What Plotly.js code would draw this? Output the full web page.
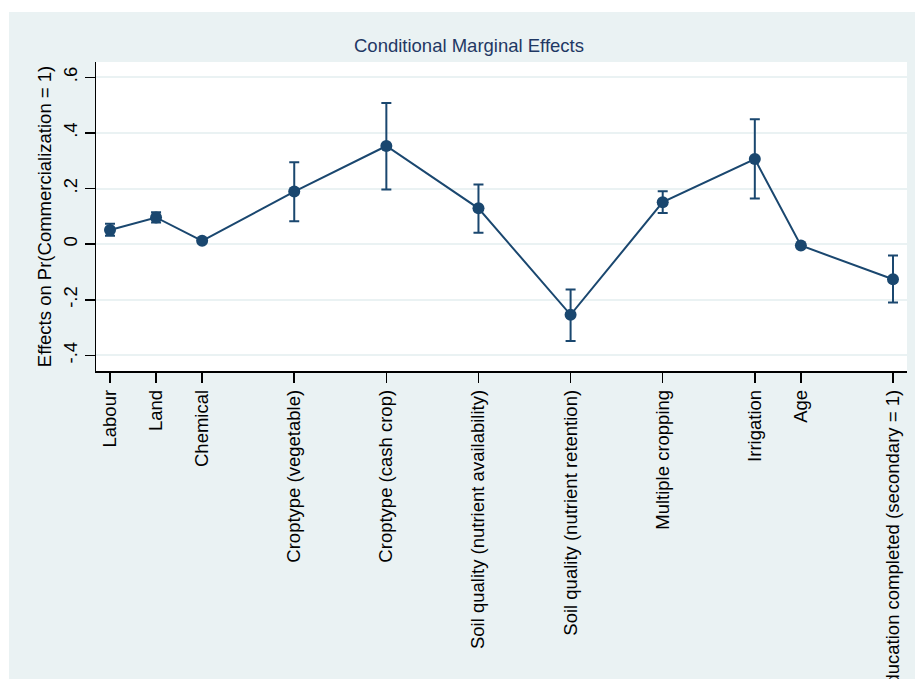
<!DOCTYPE html>
<html>
<head>
<meta charset="utf-8">
<script src="https://cdn.plot.ly/plotly-3.0.1.min.js"></script>
<style>
  html, body { margin: 0; padding: 0; background: #ffffff; }
  #chart { width: 915px; height: 679px; }
</style>
</head>
<body>
<div id="chart"></div>
<script>
// Marginal effects with 95% confidence intervals
const labels = [
  "Labour", "Land", "Chemical", "Croptype (vegetable)", "Croptype (cash crop)",
  "Soil quality (nutrient availability)", "Soil quality (nutrient retention)",
  "Multiple cropping", "Irrigation", "Age", "Education completed (secondary = 1)"
];
const positions = [1, 2, 3, 5, 7, 9, 11, 13, 15, 16, 18];
const effects = [0.051, 0.096, 0.012, 0.189, 0.353, 0.129, -0.254, 0.151, 0.306, -0.005, -0.126];
const ciLow   = [0.030, 0.078, 0.005, 0.082, 0.197, 0.041, -0.348, 0.112, 0.164, -0.009, -0.210];
const ciHigh  = [0.073, 0.115, 0.019, 0.295, 0.508, 0.215, -0.163, 0.190, 0.449, -0.001, -0.041];

const yTickVals = [-0.4, -0.2, 0, 0.2, 0.4, 0.6];
const yTickText = ["-.4", "-.2", "0", ".2", ".4", ".6"];

const navy = "#1a476f";
const font = "Liberation Sans, Arial, Helvetica, sans-serif";
const fs = 18.5;

const trace = {
  type: "scatter",
  mode: "lines+markers",
  x: positions,
  y: effects,
  line: { color: navy, width: 2 },
  marker: { color: navy, size: 12 },
  error_y: {
    type: "data",
    symmetric: false,
    array: effects.map((v, i) => ciHigh[i] - v),
    arrayminus: effects.map((v, i) => v - ciLow[i]),
    color: navy,
    thickness: 2,
    width: 5
  },
  hoverinfo: "x+y"
};

const layout = {
  width: 915,
  height: 679,
  margin: { l: 96, r: 8, t: 62, b: 308, pad: 0 },
  paper_bgcolor: "#eaf2f3",
  plot_bgcolor: "#ffffff",
  font: { family: font, size: fs, color: "#000000" },
  showlegend: false,
  title: {
    text: "Conditional Marginal Effects",
    font: { family: font, size: fs, color: "#1f3864" },
    x: 469 / 915,
    xanchor: "center",
    xref: "container",
    y: 1 - 46 / 679,
    yanchor: "middle",
    yref: "container"
  },
  xaxis: {
    range: [0.696, 18.304],
    tickmode: "array",
    tickvals: positions,
    ticktext: labels,
    tickangle: -90,
    ticks: "outside",
    ticklen: 10,
    tickwidth: 1.5,
    tickcolor: "#000000",
    showgrid: false,
    zeroline: false,
    showline: true,
    linecolor: "#000000",
    linewidth: 1.5,
    tickfont: { family: font, size: fs, color: "#000000" },
    automargin: false
  },
  yaxis: {
    range: [-0.456, 0.655],
    tickmode: "array",
    tickvals: yTickVals,
    ticktext: yTickText,
    tickangle: -90,
    ticks: "outside",
    ticklen: 10,
    tickwidth: 1.5,
    tickcolor: "#000000",
    showgrid: true,
    gridcolor: "#eaf2f3",
    gridwidth: 2,
    zeroline: false,
    showline: true,
    linecolor: "#000000",
    linewidth: 1.5,
    tickfont: { family: font, size: fs, color: "#000000" },
    title: {
      text: "Effects on Pr(Commercialization = 1)",
      font: { family: font, size: fs, color: "#000000" },
      standoff: 3
    },
    automargin: false
  },
  shapes: [
    // white border strips outside the graph region
    { type: "rect", xref: "paper", yref: "paper", layer: "below",
      x0: -96 / 811, x1: -87 / 811, y0: -2, y1: 3,
      fillcolor: "#ffffff", line: { width: 0 } },
    { type: "rect", xref: "paper", yref: "paper", layer: "below",
      x0: -1, x1: 2, y0: 1 + 50 / 309, y1: 1 + 70 / 309,
      fillcolor: "#ffffff", line: { width: 0 } },
    // reference line at zero
    { type: "line", xref: "paper", yref: "y", layer: "below",
      x0: 0, x1: 1, y0: 0, y1: 0,
      line: { color: "#d6163f", width: 1.5, dash: "10px,6px" } }
  ]
};

Plotly.newPlot("chart", [trace], layout, { displayModeBar: false, staticPlot: true });
</script>
</body>
</html>
